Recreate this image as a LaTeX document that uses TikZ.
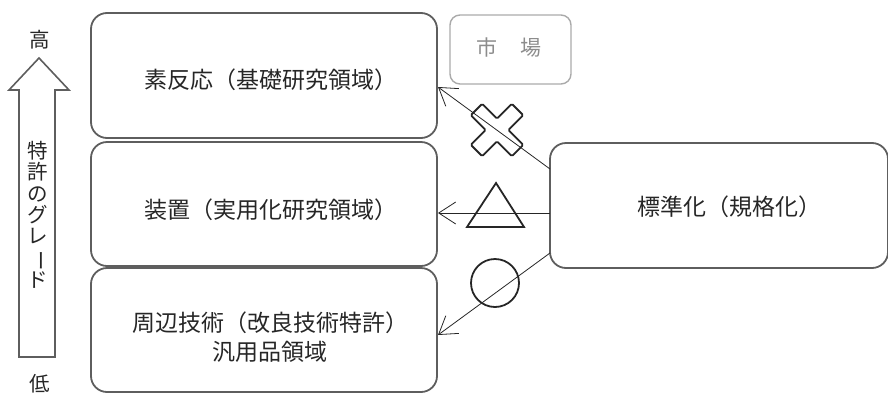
\documentclass[tikz,border=0pt]{standalone}
\usepackage{fontspec}
\setmainfont{Noto Sans CJK JP}
\usepackage{graphicx}
\usetikzlibrary{arrows.meta,calc}
\definecolor{boxgray}{HTML}{5E5E5E}
\definecolor{txtgray}{HTML}{262626}
\definecolor{mktgray}{HTML}{AAAAAA}
\begin{document}
\begin{tikzpicture}[x=1pt,y=-1pt,
  box/.style={draw=boxgray, line width=1.8pt, rounded corners=16pt, inner sep=0pt, outer sep=0pt},
  mktbox/.style={draw=mktgray, line width=1.4pt, rounded corners=10pt, inner sep=0pt, outer sep=0pt},
  lbl/.style={font=\fontsize{23}{29.5}\selectfont, text=txtgray, align=center, inner sep=0pt},
  side/.style={font=\fontsize{20.5}{21.3}\selectfont, text=txtgray, align=center, inner sep=0pt},
  conn/.style={draw=black!85, line width=0.8pt, -{Straight Barb[length=17pt,width=22pt,line width=0.8pt]}},
  symb/.style={draw=black!85, line width=1.8pt},
  bigarrow/.style={draw=boxgray, line width=1.6pt, line join=miter},
  ]
\useasboundingbox (0,0) rectangle (888,394);
% left boxes
\node[box, minimum width=346pt, minimum height=125pt] (b1) at (264,75.5) {};
\node[box, minimum width=346pt, minimum height=124pt] (b2) at (264,204) {};
\node[box, minimum width=346pt, minimum height=124pt] (b3) at (264,330) {};
\node[lbl] (t1) at (271,80) {素反応（基礎研究領域）};
\node[lbl] (t2) at (271,210) {装置（実用化研究領域）};
\node[lbl] (t3) at (270,337) {周辺技術（改良技術特許）\\汎用品領域};
% market
\node[mktbox, minimum width=121pt, minimum height=69pt] (mkt) at (510.5,49.5) {};
\node[lbl, font=\fontsize{21}{25}\selectfont, text=black!45] (tm) at (509,48) {市\hspace{1.1em}場};
% standardization
\node[box, minimum width=338pt, minimum height=125pt] (std) at (719,205.5) {};
\node[lbl] (ts) at (729,207) {標準化（規格化）};
% grade arrow
\draw[bigarrow] (39,58) -- (69,90) -- (55,90) -- (55,357) -- (19,357) -- (19,90) -- (9,90) -- cycle;
\node[side] (hi) at (40,40) {高};
\node[side] (lo) at (40,384) {低};
\node[side] (grade) at (38,215) {特\\許\\の\\グ\\レ\\\rotatebox[origin=c]{-90}{ー}\\ド};
% connectors
\coordinate (s1) at ($(std.north west)+(0,26)$);
\coordinate (e1) at ($(b1.north east)+(1,74)$);
\coordinate (s2) at ($(std.west)+(0,7.5)$);
\coordinate (e2) at ($(b2.east)+(1,9)$);
\coordinate (s3) at ($(std.south west)+(0,-15)$);
\coordinate (e3) at ($(b3.north east)+(1,67)$);
\draw[conn] (s1) -- (e1);
\draw[conn] (s2) -- (e2);
\draw[conn] (s3) -- (e3);
% symbols
\draw[symb, rounded corners=1.2pt, shift={(497,130)}, rotate=45]
  (8,8) -- (29,8) -- (29,-8) -- (8,-8) -- (8,-29) -- (-8,-29) -- (-8,-8)
  -- (-29,-8) -- (-29,8) -- (-8,8) -- (-8,29) -- (8,29) -- cycle;
\draw[symb, line join=miter] (467,227) -- (524,227) -- (496,183) -- cycle;
\draw[symb, line width=2.6pt] (468,227) -- (523,227);
\draw[symb] (495,283) circle (24);
\end{tikzpicture}
\end{document}
